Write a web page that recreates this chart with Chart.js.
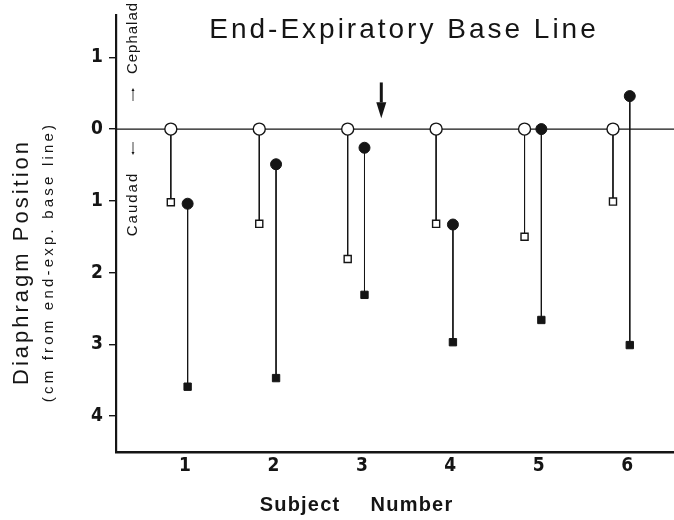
<!DOCTYPE html>
<html>
<head>
<meta charset="utf-8">
<script src="https://cdn.jsdelivr.net/npm/chart.js@4.4.1/dist/chart.umd.min.js"></script>
<style>
  html, body { margin: 0; padding: 0; background: #fff; }
  canvas { display: block; }
</style>
</head>
<body>
<canvas id="chart" width="674" height="520"></canvas>
<script>
// subject numbers along the x axis
const subjects = [1, 2, 3, 4, 5, 6];
// open markers: circle on the end-exp. base line, square at end of stem (cm caudad)
const openCircle = [0, 0, 0, 0, 0, 0];
const openSquare = [1.02, 1.32, 1.81, 1.32, 1.50, 1.01];
// filled markers: circle start, square end (negative = cephalad)
const filledCircle = [1.04, 0.49, 0.26, 1.33, 0.00, -0.46];
const filledSquare = [3.59, 3.47, 2.31, 2.97, 2.66, 3.01];
const yTicks = [-1, 0, 1, 2, 3, 4];

const INK = '#151515';
const SANS = '"Liberation Sans", Arial, sans-serif';
const NARROW = '"Liberation Sans Narrow", "DejaVu Sans Condensed", sans-serif';
const OPEN_DX = -0.16;   // open stem sits a bit left of the subject tick
const FILL_DX = 0.03;

const datasets = [];
subjects.forEach((s, i) => {
  datasets.push({
    data: [{ x: s + OPEN_DX, y: openCircle[i] }, { x: s + OPEN_DX, y: openSquare[i] }],
    borderColor: INK, borderWidth: 1,
    pointStyle: ['circle', 'rect'], pointRadius: [6, 5],
    pointBackgroundColor: '#fff', pointBorderColor: INK, pointBorderWidth: 1.4,
  });
  datasets.push({
    data: [{ x: s + FILL_DX, y: filledCircle[i] }, { x: s + FILL_DX, y: filledSquare[i] }],
    borderColor: INK, borderWidth: 1,
    pointStyle: ['circle', 'rect'], pointRadius: [5.5, 5.2],
    pointBackgroundColor: INK, pointBorderColor: INK, pointBorderWidth: 1,
  });
});

function spaced(ctx, text, x, y, font, spacing, rot) {
  ctx.save();
  ctx.translate(x, y);
  if (rot) ctx.rotate(rot);
  ctx.font = font;
  ctx.letterSpacing = spacing + 'px';
  ctx.fillStyle = INK;
  ctx.textAlign = 'center';
  ctx.textBaseline = 'middle';
  ctx.fillText(text, 0, 0);
  ctx.restore();
}

function arrow(ctx, x, y0, y1, w, head, headW) {
  const dir = Math.sign(y1 - y0);
  ctx.save();
  ctx.strokeStyle = INK; ctx.fillStyle = INK; ctx.lineWidth = w;
  ctx.beginPath(); ctx.moveTo(x, y0); ctx.lineTo(x, y1 - dir * head); ctx.stroke();
  ctx.beginPath();
  ctx.moveTo(x - headW / 2, y1 - dir * head);
  ctx.lineTo(x + headW / 2, y1 - dir * head);
  ctx.lineTo(x, y1);
  ctx.closePath(); ctx.fill();
  ctx.restore();
}

const baseLinePlugin = {
  id: 'baseLine',
  beforeDatasetsDraw(chart) {
    const { ctx, chartArea, scales } = chart;
    const y0 = scales.y.getPixelForValue(0);
    ctx.save();
    ctx.strokeStyle = INK; ctx.lineWidth = 1.4;
    ctx.beginPath(); ctx.moveTo(chartArea.left, y0); ctx.lineTo(chartArea.right, y0); ctx.stroke();
    ctx.restore();
  },
};

const labelsPlugin = {
  id: 'labels',
  afterDraw(chart) {
    const { ctx, scales } = chart;
    const up = -Math.PI / 2;
    spaced(ctx, 'End-Expiratory Base Line', 404, 30, '28px ' + SANS, 3);
    spaced(ctx, 'Diaphragm Position', 22, 262, '22px ' + SANS, 3, up);
    spaced(ctx, '(cm from end-exp. base line)', 49, 262, '15px ' + SANS, 3.2, up);
    spaced(ctx, 'Cephalad', 133, 38, '15px ' + SANS, 1, up);
    spaced(ctx, 'Caudad', 133, 204, '15px ' + SANS, 2, up);
    spaced(ctx, 'Subject', 300, 505, 'bold 20px ' + SANS, 1.2);
    spaced(ctx, 'Number', 412, 505, 'bold 20px ' + SANS, 1.2);
    arrow(ctx, 133, 101, 88, 0.8, 3, 3);
    arrow(ctx, 133, 142, 155, 0.8, 3, 3);
    // heavy arrow above the base line between subjects 3 and 4
    const ax = scales.x.getPixelForValue(3.22);
    arrow(ctx, ax, scales.y.getPixelForValue(-0.65), scales.y.getPixelForValue(-0.15), 3, 16, 10);
  },
};

new Chart(document.getElementById('chart'), {
  type: 'line',
  data: { datasets },
  plugins: [baseLinePlugin, labelsPlugin],
  options: {
    responsive: false,
    animation: false,
    events: [],
    layout: { autoPadding: false, padding: { top: 15, left: 0, right: 0, bottom: 0 } },
    plugins: { legend: { display: false }, tooltip: { enabled: false } },
    scales: {
      x: {
        type: 'linear', min: 0.22, max: 6.53,
        afterFit: (s) => { s.height = 68; s.paddingLeft = 0; s.paddingRight = 0; },
        afterBuildTicks: (s) => { s.ticks = subjects.map((v) => ({ value: v })); },
        grid: { display: false, drawTicks: false },
        border: { display: true, color: INK, width: 2.5 },
        ticks: { color: INK, padding: 3, font: { family: NARROW, size: 19, weight: 'bold' },
          callback: (v) => String(v) },
      },
      y: {
        type: 'linear', reverse: true, min: -1.59, max: 4.5,
        afterFit: (s) => { s.width = 116; s.paddingTop = 0; s.paddingBottom = 0; },
        afterBuildTicks: (s) => { s.ticks = yTicks.map((v) => ({ value: v })); },
        grid: { display: true, drawOnChartArea: false, drawTicks: true, tickLength: 7, color: INK, lineWidth: 1.4 },
        border: { display: true, color: INK, width: 2.2 },
        ticks: { color: INK, padding: 6, font: { family: NARROW, size: 19, weight: 'bold' },
          callback: (v) => String(Math.abs(v)) },
      },
    },
  },
});
</script>
</body>
</html>
